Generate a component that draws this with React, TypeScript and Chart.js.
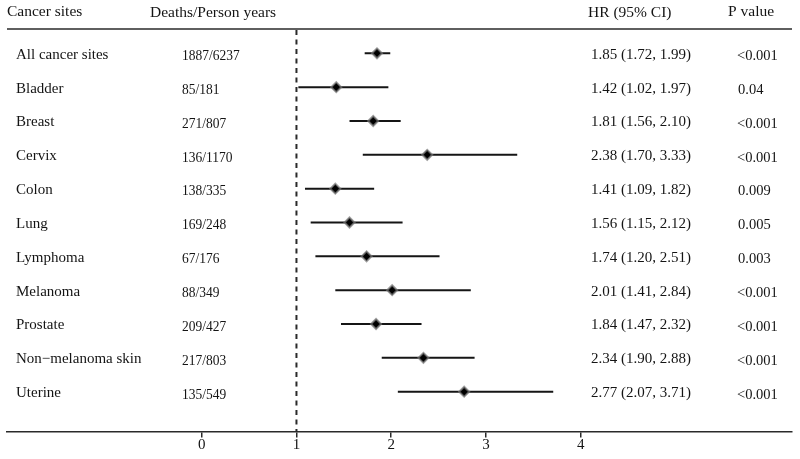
import React, { useEffect, useRef } from "react";
import { Chart, registerables } from "chart.js";

Chart.register(...registerables);

const sites = ["All cancer sites", "Bladder", "Breast", "Cervix", "Colon", "Lung", "Lymphoma", "Melanoma", "Prostate", "Non\u2212melanoma skin", "Uterine"];
const deaths = ["1887/6237", "85/181", "271/807", "136/1170", "138/335", "169/248", "67/176", "88/349", "209/427", "217/803", "135/549"];
const hr = [1.85, 1.42, 1.81, 2.38, 1.41, 1.56, 1.74, 2.01, 1.84, 2.34, 2.77];
const lower = [1.72, 1.02, 1.56, 1.70, 1.09, 1.15, 1.20, 1.41, 1.47, 1.90, 2.07];
const upper = [1.99, 1.97, 2.10, 3.33, 1.82, 2.12, 2.51, 2.84, 2.32, 2.88, 3.71];
const pValues = ["<0.001", "0.04", "<0.001", "<0.001", "0.009", "0.005", "0.003", "<0.001", "<0.001", "<0.001", "<0.001"];
const xTicks = [0, 1, 2, 3, 4];
const headers = ["Cancer sites", "Deaths/Person years", "HR (95% CI)", "P value"];
const refValue = 1;

const FONT = "'Liberation Serif', 'Times New Roman', serif";
const TEXT = "#141414";
const LINE = "#2a2a2a";

const fmt = (v: number) => v.toFixed(2);

function drawText(ctx: CanvasRenderingContext2D, text: string, x: number, y: number, size: number, sx = 1) {
  ctx.save();
  ctx.translate(x, y);
  ctx.scale(sx, 1);
  ctx.font = `${size}px ${FONT}`;
  ctx.fillText(text, 0, 0);
  ctx.restore();
}

export default function App() {
  const ref = useRef<HTMLCanvasElement | null>(null);

  useEffect(() => {
    if (!ref.current) return;

    const textPlugin = {
      id: "forestText",
      beforeDatasetsDraw(chart: any) {
        const { ctx, chartArea, scales } = chart;
        const xr = scales.x.getPixelForValue(refValue);
        ctx.save();
        ctx.strokeStyle = LINE;
        ctx.lineWidth = 2;
        ctx.setLineDash([5, 4.5]);
        ctx.beginPath();
        ctx.moveTo(xr, chartArea.top + 1);
        ctx.lineTo(xr, chartArea.bottom);
        ctx.stroke();
        ctx.restore();
      },
      afterDraw(chart: any) {
        const { ctx, chartArea, scales } = chart;
        ctx.save();
        // top rule
        ctx.strokeStyle = LINE;
        ctx.lineWidth = 1.5;
        ctx.beginPath();
        ctx.moveTo(chartArea.left, chartArea.top);
        ctx.lineTo(chartArea.right, chartArea.top);
        ctx.stroke();

        ctx.fillStyle = TEXT;
        ctx.textBaseline = "middle";
        ctx.textAlign = "left";
        drawText(ctx, headers[0], 7, 11.5, 15.5);
        drawText(ctx, headers[1], 150, 12.5, 15.5);
        drawText(ctx, headers[2], 588, 12.5, 15.5);
        drawText(ctx, headers[3], 728, 12, 15.5);

        for (let i = 0; i < sites.length; i++) {
          const y = scales.y.getPixelForValue(i);
          drawText(ctx, sites[i], 16, y + 1.5, 15);
          drawText(ctx, deaths[i], 182, y + 3, 14.5, 0.93);
          drawText(ctx, `${fmt(hr[i])} (${fmt(lower[i])}, ${fmt(upper[i])})`, 591, y + 1.5, 15);
          drawText(ctx, pValues[i], pValues[i].startsWith("<") ? 737 : 738, y + 3, 14.5);
        }
        ctx.restore();
      },
    };

    const ciSets = sites.map((_, i) => ({
      data: [
        { x: lower[i], y: i },
        { x: upper[i], y: i },
      ],
      showLine: true,
      borderColor: "#151515",
      borderWidth: 2,
      pointRadius: 0,
      order: 2,
    }));

    const chart = new Chart(ref.current, {
      type: "scatter",
      data: {
        datasets: [
          ...ciSets,
          {
            data: hr.map((v, i) => ({ x: v, y: i })),
            pointStyle: "rectRot",
            pointRadius: 5,
            backgroundColor: "#000",
            borderColor: "rgba(120,120,120,0.7)",
            borderWidth: 2,
            order: 1,
          },
        ] as any,
      },
      options: {
        animation: false,
        responsive: true,
        maintainAspectRatio: false,
        layout: { padding: { left: 7, right: 8, top: 29, bottom: 0 } },
        plugins: { legend: { display: false }, tooltip: { enabled: false } },
        scales: {
          x: {
            type: "linear",
            min: -2.055,
            max: 6.23,
            afterBuildTicks: (scale: any) => {
              scale.ticks = xTicks.map((v) => ({ value: v }));
            },
            afterFit: (scale: any) => {
              scale.height = 27.5;
            },
            grid: { drawOnChartArea: false, tickLength: 6, color: LINE, lineWidth: 1.5 },
            border: { display: true, color: LINE, width: 1.5 },
            ticks: { color: TEXT, padding: -1, font: { family: FONT, size: 15 }, maxRotation: 0 },
          },
          y: {
            type: "linear",
            min: -0.718,
            max: 11.176,
            reverse: true,
            display: false,
          },
        },
      } as any,
      plugins: [textPlugin],
    });
    return () => chart.destroy();
  }, []);

  return (
    <div style={{ position: "fixed", left: 0, top: 0, width: 800, height: 459, background: "#fff" }}>
      <canvas ref={ref} />
    </div>
  );
}
